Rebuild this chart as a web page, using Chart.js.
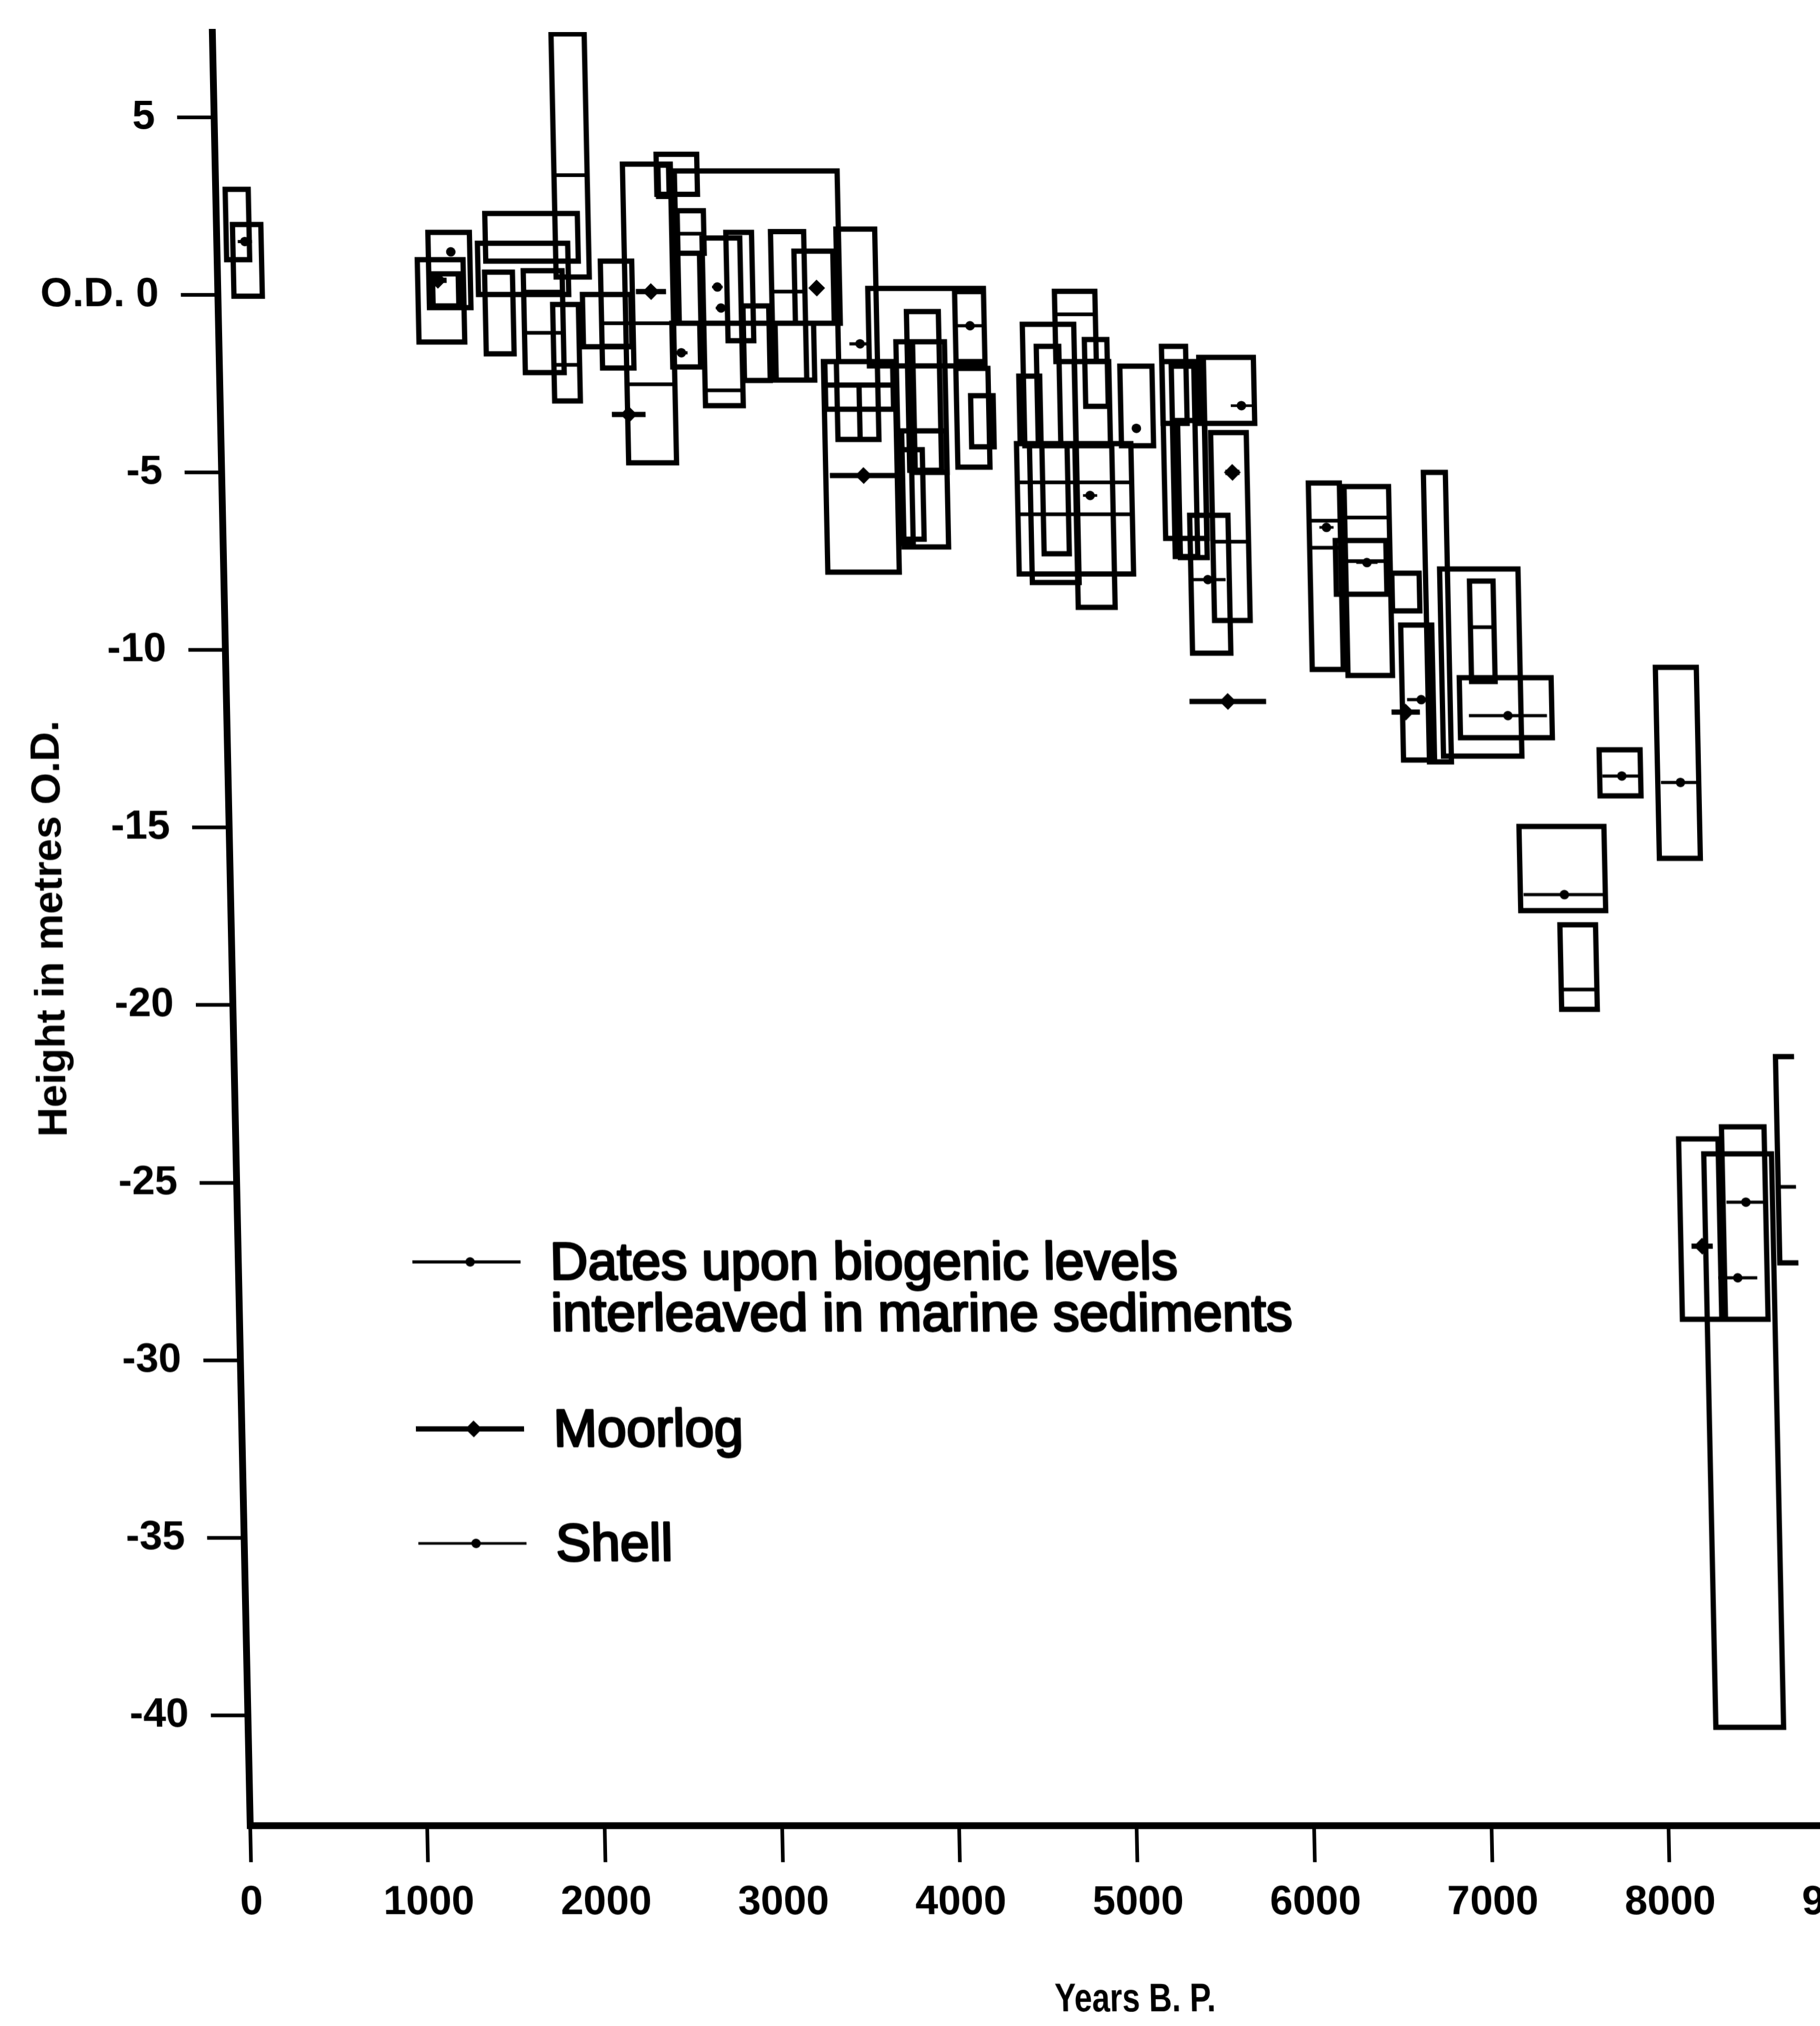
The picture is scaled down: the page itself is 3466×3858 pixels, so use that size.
<!DOCTYPE html>
<html>
<head>
<meta charset="utf-8">
<title>Height of dated levels against Years B.P.</title>
<script src="https://cdn.jsdelivr.net/npm/chart.js@4.4.1/dist/chart.umd.min.js"></script>
<style>
  html, body { margin: 0; padding: 0; background: #fff; overflow: hidden; }
  #wrap { position: relative; width: 3466px; height: 3858px; overflow: hidden; }
  /* the printed plate leans a little to the right */
  #chart { position: absolute; left: 0; top: 0; transform: skewX(1.21deg); transform-origin: 0 3476px; }
</style>
</head>
<body>
<div id="wrap"><canvas id="chart" width="3650" height="3858"></canvas></div>
<script>
// axis ticks
const X_TICKS = [0, 1000, 2000, 3000, 4000, 5000, 6000, 7000, 8000, 9000];
const Y_TICKS = [5, 0, -5, -10, -15, -20, -25, -30, -35, -40];
const Y_TICK_LABELS = ['5', 'O.D. 0', '-5', '-10', '-15', '-20', '-25', '-30', '-35', '-40'];

// dated levels: [years from, years to, height low, height high] (m O.D.)
const LEVELS_EARLY = [
  [55, 185, 0.99, 2.97], [92, 252, -0.04, 1.98],
  [1130, 1388, -1.33, 0.99], [1193, 1427, -0.36, 1.76], [1214, 1359, -0.31, 0.59],
  [1516, 2038, 0.95, 2.29], [1471, 1980, 0.01, 1.45], [1508, 1665, -1.66, 0.64],
  [1726, 1945, -2.19, 0.68], [1888, 2033, -2.99, -0.27], [1911, 2098, 0.5, 7.35],
  [2057, 2330, -1.46, 0.01], [2162, 2339, -2.06, 0.95],
];
const LEVELS_MID = [
  [2298, 2568, -4.73, 3.68], [2489, 2718, 2.83, 3.96], [2498, 2558, 2.77, 3.65],
  [2590, 3508, -0.8, 3.49], [2601, 2749, 1.17, 2.37], [2600, 2722, -0.8, 1.17],
  [2558, 2715, -2.03, -0.8], [2738, 2951, -3.12, 1.6], [2873, 3018, -1.29, 1.76],
  [2961, 3106, -2.41, -0.31], [3125, 3312, -2.4, 1.78], [3255, 3474, -0.8, 1.23],
  [3140, 3357, -2.4, -0.8], [3494, 3713, -1.88, 1.85], [3667, 4319, -2.0, 0.18],
  [4156, 4319, -1.88, 0.09], [3882, 4062, -4.94, -0.47], [3819, 3893, -7.0, -1.32],
  [3841, 4092, -7.1, -3.83], [3834, 3955, -6.88, -4.36], [3913, 4093, -5.0, -1.32],
  [4154, 4335, -4.85, -2.07], [4234, 4361, -4.28, -2.84], [3408, 3811, -7.81, -1.88],
  [3481, 3712, -4.07, -1.88], [3416, 3798, -2.54, -1.88], [3416, 3798, -3.22, -2.54],
  [3481, 3606, -4.07, -2.54],
];
const LEVELS_LATE = [
  [4719, 4947, -1.88, 0.1], [4534, 4824, -4.25, -0.83], [4610, 4737, -4.25, -1.45],
  [4882, 5009, -3.14, -1.26], [4822, 5017, -4.25, -1.88], [4508, 4626, -4.19, -2.29],
  [5079, 5260, -4.25, -2.01], [4487, 5132, -7.86, -4.19], [4560, 4824, -8.1, -4.25],
  [4630, 4772, -7.29, -4.19], [4816, 5024, -8.8, -4.19],
  [5316, 5452, -3.62, -1.45], [5317, 5551, -6.86, -1.88], [5369, 5496, -7.37, -2.01],
  [5398, 5549, -7.4, -3.54], [5525, 5833, -3.62, -1.76], [5583, 5784, -9.17, -3.88],
  [5455, 5671, -10.09, -6.21],
  [6128, 6303, -10.55, -5.3], [6329, 6580, -10.72, -5.4], [6273, 6558, -8.43, -6.92],
  [6588, 6742, -8.9, -7.84], [6632, 6807, -13.1, -9.3], [6778, 6902, -13.15, -5.0],
  [6858, 7300, -12.99, -7.72], [7025, 7158, -10.89, -8.06], [6956, 7474, -12.47, -10.78],
  [7736, 7967, -14.11, -12.81], [8063, 8294, -15.87, -10.49], [7275, 7754, -17.34, -14.97],
  [7494, 7695, -20.12, -17.74],
  [8138, 8360, -28.85, -23.77], [8278, 8660, -40.34, -24.19], [8381, 8621, -28.85, -23.43],
];
// level at the plate edge, drawn without its right side
const LEVELS_OPEN = [[8694, 8784, -27.26, -21.45]];

// subdivisions inside levels: [years from, years to, height]
const RULES = [
  [1911, 2098, 3.37], [1726, 1945, 0.09], [1726, 1945, -1.07], [1888, 2033, -1.97],
  [2162, 2339, 0.03], [2162, 2339, -0.8], [2162, 2339, -1.43], [2298, 2568, -0.8],
  [2298, 2568, -2.52], [2601, 2749, 1.72], [2738, 2951, -2.69], [3125, 3312, -0.8],
  [3125, 3312, 0.09], [3882, 4062, -1.32], [4719, 4947, -0.55], [4882, 5009, -1.85],
  [4487, 5132, -5.28], [4487, 5132, -6.18], [4816, 5024, -7.86], [5583, 5784, -6.95],
  [6128, 6303, -6.36], [6128, 6303, -7.12], [6329, 6580, -6.27], [6329, 6580, -7.5],
  [7025, 7158, -9.36], [7494, 7695, -19.56], [8381, 8621, -24.2], [8694, 8784, -25.12],
];

// sample markers: [years, half span, height]
const DATES_MARKS = [
  [160, 40, 1.5], [1320, 25, 1.21], [2608, 35, -1.63], [3617, 60, -1.38],
  [4239, 80, -0.87], [5165, 25, -3.76], [5550, 100, -8.02], [6739, 80, -11.4],
  [7226, 220, -11.85], [7861, 110, -13.55], [8191, 110, -13.73], [7523, 230, -16.89],
  [8510, 110, -25.55], [8455, 110, -27.68],
];
const MOORLOG_MARKS = [
  [1243, 50, 0.41], [2444, 85, 0.09], [2304, 95, -3.37], [3379, 30, 0.19],
  [3621, 190, -5.09], [5701, 40, -5.0], [5648, 216, -11.45], [6650, 80, -11.75],
  [8258, 60, -26.79],
];
const SHELL_MARKS = [
  [2819, 30, 0.22], [2837, 30, -0.37], [4896, 40, -5.65], [6225, 40, -6.55],
  [6449, 60, -7.54], [5760, 60, -3.12],
];

const LEGEND_ENTRIES = [
  { kind: 'dates', lines: ['Dates upon biogenic levels', 'interleaved in marine sediments'] },
  { kind: 'moorlog', lines: ['Moorlog'] },
  { kind: 'shell', lines: ['Shell'] },
];
const X_TITLE = 'Years B. P.';
const Y_TITLE = 'Height in metres O.D.';

const INK = '#000';
const FAMILY = "'Liberation Sans', Arial, sans-serif";
const KINDS = {
  dates:   { width: 6, radius: 9,  style: 'circle' },
  moorlog: { width: 10, radius: 16, style: 'rectRot' },
  shell:   { width: 5, radius: 9,  style: 'circle' },
};
const tickFont = { family: FAMILY, size: 78, weight: 'bold' };
const titleFont = { family: FAMILY, size: 78, weight: 'bold' };

function levelPoints(levels) {
  const pts = [];
  for (const [from, to, low, high] of levels) {
    pts.push({ x: from, y: low }, { x: to, y: low }, { x: to, y: high },
      { x: from, y: high }, { x: from, y: low }, { x: from, y: null });
  }
  return pts;
}

function openPoints(levels) {
  const pts = [];
  for (const [from, to, low, high] of levels) {
    pts.push({ x: to, y: high }, { x: from, y: high }, { x: from, y: low },
      { x: to, y: low }, { x: to, y: null });
  }
  return pts;
}

function rulePoints(rules) {
  const pts = [];
  for (const [from, to, h] of rules) pts.push({ x: from, y: h }, { x: to, y: h }, { x: to, y: null });
  return pts;
}

function markPoints(marks) {
  const pts = [];
  for (const [mid, half, h] of marks) {
    pts.push({ x: mid - half, y: h }, { x: mid, y: h, dot: true }, { x: mid + half, y: h }, { x: mid, y: null });
  }
  return pts;
}

const outline = (data, width) => ({
  data,
  showLine: true,
  borderColor: INK,
  borderWidth: width,
  borderCapStyle: 'square',
  borderJoinStyle: 'miter',
  pointRadius: 0,
  tension: 0,
});

const markSet = (marks, kind) => ({
  data: markPoints(marks),
  showLine: true,
  borderColor: INK,
  borderWidth: KINDS[kind].width,
  borderCapStyle: 'butt',
  pointStyle: KINDS[kind].style,
  pointBackgroundColor: INK,
  pointBorderColor: INK,
  pointBorderWidth: 0,
  pointRadius: (c) => (c.raw && c.raw.dot ? KINDS[kind].radius : 0),
});

function drawSymbol(ctx, kind, x0, x1, xd, y) {
  const k = KINDS[kind];
  ctx.lineWidth = k.width;
  ctx.beginPath();
  ctx.moveTo(x0, y);
  ctx.lineTo(x1, y);
  ctx.stroke();
  ctx.beginPath();
  if (k.style === 'rectRot') {
    ctx.moveTo(xd - k.radius, y);
    ctx.lineTo(xd, y - k.radius);
    ctx.lineTo(xd + k.radius, y);
    ctx.lineTo(xd, y + k.radius);
    ctx.closePath();
  } else {
    ctx.arc(xd, y, k.radius, 0, Math.PI * 2);
  }
  ctx.fill();
}

// key and x-axis caption sit inside the plot, so they are drawn by hand
const keyPlugin = {
  id: 'plateKey',
  afterDraw(chart) {
    const ctx = chart.ctx;
    const rows = [2403, 2721, 2939];
    ctx.save();
    ctx.fillStyle = INK;
    ctx.strokeStyle = INK;
    LEGEND_ENTRIES.forEach((entry, i) => {
      drawSymbol(ctx, entry.kind, 808, 1014, 918, rows[i]);
      ctx.font = `100px ${FAMILY}`;
      ctx.textAlign = 'left';
      ctx.textBaseline = 'alphabetic';
      ctx.lineWidth = 4;
      ctx.lineJoin = 'round';
      entry.lines.forEach((line, j) => {
        ctx.fillText(line, 1070, rows[i] + 33 + j * 98);
        ctx.strokeText(line, 1070, rows[i] + 33 + j * 98);
      });
    });
    // caption set in a condensed cut
    ctx.translate(2155, 3830);
    ctx.scale(0.8, 1);
    ctx.font = `bold 76px ${FAMILY}`;
    ctx.textAlign = 'center';
    ctx.fillText(X_TITLE, 0, 0);
    ctx.restore();
  },
};

new Chart(document.getElementById('chart'), {
  type: 'scatter',
  data: {
    datasets: [
      outline(levelPoints(LEVELS_EARLY), 10),
      outline(levelPoints(LEVELS_MID), 10),
      outline(levelPoints(LEVELS_LATE), 10),
      outline(openPoints(LEVELS_OPEN), 10),
      outline(rulePoints(RULES), 7),
      markSet(DATES_MARKS, 'dates'),
      markSet(MOORLOG_MARKS, 'moorlog'),
      markSet(SHELL_MARKS, 'shell'),
    ],
  },
  options: {
    responsive: false,
    animation: false,
    events: [],
    layout: { padding: { top: 61, right: 67, bottom: 0, left: 0 } },
    plugins: { legend: { display: false }, tooltip: { enabled: false } },
    scales: {
      x: {
        type: 'linear',
        position: 'bottom',
        min: 0,
        max: 9200,
        afterBuildTicks: (s) => { s.ticks = X_TICKS.map((v) => ({ value: v })); },
        afterFit: (s) => { s.height = 382; s.paddingLeft = 0; s.paddingRight = 0; },
        ticks: { autoSkip: false, maxRotation: 0, padding: 31, color: INK, font: tickFont, callback: (v) => String(v) },
        grid: { drawOnChartArea: false, drawTicks: true, tickLength: 70, tickWidth: 7, tickColor: INK },
        border: { display: true, color: INK, width: 13 },
      },
      y: {
        type: 'linear',
        position: 'left',
        min: -43.1,
        max: 7.4,
        afterBuildTicks: (s) => { s.ticks = Y_TICKS.map((v) => ({ value: v })); },
        afterFit: (s) => { s.width = 476; s.paddingTop = 0; s.paddingBottom = 0; },
        ticks: { padding: 42, color: INK, font: tickFont, callback: (v) => Y_TICK_LABELS[Y_TICKS.indexOf(v)] },
        grid: { drawOnChartArea: false, drawTicks: true, tickLength: 70, tickWidth: 7, tickColor: INK },
        border: { display: true, color: INK, width: 13 },
        title: { display: true, text: Y_TITLE, color: INK, font: titleFont, padding: { top: 87, bottom: 0 } },
      },
    },
  },
  plugins: [keyPlugin],
});
</script>
</body>
</html>
